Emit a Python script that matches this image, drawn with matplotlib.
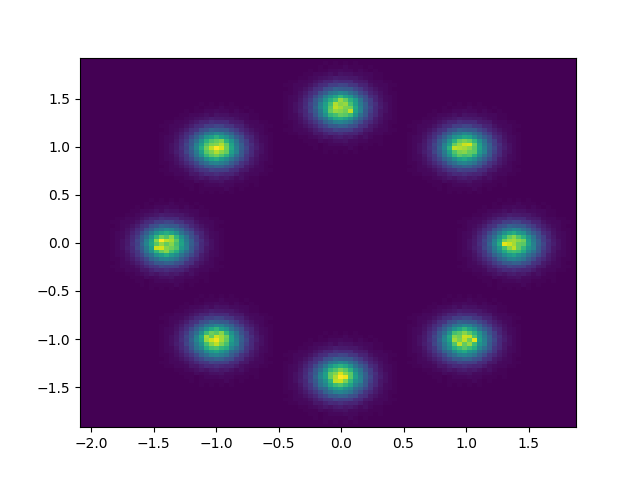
import numpy as np
import matplotlib
matplotlib.use("Agg")
import matplotlib.pyplot as plt

# bin edges of the histogram (100 x 100)
x_min, x_max = -2.088, 1.88
y_min, y_max = -1.917, 1.927
n_bins = 100

# blob centres
centre_x = [0.0, -1.0, 1.0, -1.41, 1.38, -1.0, 1.0, 0.0]
centre_y = [1.41, 1.0, 1.0, 0.0, 0.0, -1.0, -1.0, -1.41]

# outer part of a blob, read as percent of the colour range, top row first
# (the middle 7 x 7 cells are replaced by the cores below)
halo = [
    [0, 0, 0, 0, 0, 0, 0, 0, 0, 1, 0, 1, 0, 1, 0, 1, 0, 0, 0, 0, 0, 0, 0, 0, 0],
    [0, 0, 0, 0, 0, 0, 0, 0, 1, 0, 1, 1, 1, 2, 1, 1, 1, 0, 1, 0, 0, 0, 0, 0, 0],
    [0, 0, 0, 0, 0, 0, 1, 0, 1, 1, 2, 2, 3, 2, 2, 1, 2, 1, 0, 1, 0, 0, 0, 0, 0],
    [0, 0, 0, 0, 0, 1, 1, 2, 2, 3, 4, 3, 5, 4, 4, 3, 3, 2, 2, 1, 1, 0, 0, 0, 0],
    [0, 0, 0, 0, 1, 1, 2, 3, 4, 5, 6, 8, 7, 7, 6, 6, 4, 3, 2, 1, 1, 0, 0, 0, 0],
    [0, 0, 1, 1, 2, 2, 3, 5, 7, 10, 10, 13, 12, 12, 12, 8, 7, 6, 3, 2, 2, 1, 1, 0, 0],
    [0, 1, 1, 2, 2, 3, 5, 8, 12, 13, 18, 18, 21, 20, 16, 15, 10, 9, 5, 3, 2, 2, 1, 1, 0],
    [0, 0, 1, 2, 3, 5, 8, 13, 15, 23, 25, 31, 29, 28, 27, 21, 17, 11, 8, 5, 3, 2, 1, 0, 0],
    [0, 1, 1, 2, 4, 7, 12, 15, 24, 29, 38, 41, 46, 43, 36, 31, 22, 17, 10, 7, 4, 2, 1, 1, 0],
    [0, 1, 2, 3, 5, 9, 14, 22, 30, 0, 0, 0, 0, 0, 0, 0, 29, 23, 13, 10, 5, 3, 2, 1, 0],
    [0, 1, 2, 3, 6, 11, 17, 27, 36, 0, 0, 0, 0, 0, 0, 0, 38, 25, 18, 10, 6, 3, 2, 1, 0],
    [0, 1, 2, 4, 7, 12, 20, 28, 43, 0, 0, 0, 0, 0, 0, 0, 41, 30, 18, 13, 7, 4, 2, 1, 0],
    [0, 1, 2, 4, 7, 13, 19, 31, 45, 0, 0, 0, 0, 0, 0, 0, 43, 30, 21, 12, 8, 4, 2, 1, 0],
    [0, 1, 2, 4, 8, 11, 20, 28, 41, 0, 0, 0, 0, 0, 0, 0, 44, 28, 19, 12, 6, 4, 2, 1, 0],
    [0, 1, 2, 3, 6, 11, 16, 26, 38, 0, 0, 0, 0, 0, 0, 0, 36, 27, 16, 11, 6, 3, 2, 1, 0],
    [0, 1, 2, 3, 5, 9, 15, 21, 31, 0, 0, 0, 0, 0, 0, 0, 30, 22, 15, 8, 5, 3, 2, 1, 0],
    [0, 1, 1, 2, 4, 7, 11, 16, 22, 31, 36, 43, 45, 42, 38, 29, 23, 15, 11, 7, 4, 2, 1, 1, 0],
    [0, 0, 1, 2, 3, 5, 8, 11, 17, 21, 27, 28, 31, 30, 25, 23, 15, 13, 7, 5, 3, 2, 1, 0, 0],
    [0, 1, 1, 2, 2, 3, 5, 8, 11, 15, 16, 20, 19, 19, 18, 13, 12, 7, 6, 3, 2, 2, 1, 1, 0],
    [0, 0, 1, 1, 2, 2, 3, 6, 6, 9, 12, 11, 13, 11, 10, 10, 7, 4, 3, 2, 2, 1, 1, 0, 0],
    [0, 0, 0, 0, 1, 1, 2, 3, 4, 6, 5, 7, 8, 6, 7, 5, 3, 4, 2, 1, 1, 0, 0, 0, 0],
    [0, 0, 0, 0, 0, 1, 1, 1, 3, 2, 3, 4, 4, 5, 3, 3, 2, 2, 1, 1, 1, 0, 0, 0, 0],
    [0, 0, 0, 0, 0, 0, 1, 1, 0, 1, 2, 2, 2, 3, 2, 2, 1, 1, 1, 0, 1, 0, 0, 0, 0],
    [0, 0, 0, 0, 0, 0, 0, 1, 0, 1, 1, 1, 1, 1, 2, 1, 0, 1, 0, 0, 0, 0, 0, 0, 0],
    [0, 0, 0, 0, 0, 0, 0, 0, 0, 1, 0, 1, 0, 1, 0, 1, 0, 0, 0, 0, 0, 0, 0, 0, 0],
]

# inner cells of each blob, same order as the centres
core_top = [
    [42, 50, 58, 66, 58, 52, 40],
    [50, 62, 70, 84, 76, 64, 54],
    [56, 70, 88, 82, 84, 70, 56],
    [58, 74, 90, 86, 80, 78, 60],
    [56, 76, 84, 82, 78, 90, 58],
    [50, 66, 70, 76, 74, 68, 52],
    [38, 50, 60, 62, 58, 50, 40],
]
core_upper_left = [
    [40, 52, 56, 64, 56, 50, 40],
    [50, 64, 72, 76, 80, 64, 52],
    [56, 72, 80, 82, 88, 76, 58],
    [62, 78, 90, 100, 94, 78, 60],
    [56, 74, 80, 88, 82, 76, 56],
    [50, 66, 74, 78, 72, 64, 50],
    [38, 50, 58, 62, 54, 48, 38],
]
core_upper_right = [
    [40, 50, 54, 60, 58, 48, 38],
    [50, 64, 76, 80, 76, 66, 50],
    [56, 76, 84, 92, 94, 76, 56],
    [64, 90, 88, 86, 82, 74, 58],
    [56, 72, 80, 82, 76, 74, 54],
    [50, 66, 74, 70, 72, 62, 48],
    [38, 48, 56, 60, 54, 48, 38],
]
core_left = [
    [40, 50, 58, 62, 58, 50, 38],
    [50, 66, 78, 72, 82, 66, 50],
    [58, 82, 100, 90, 86, 74, 56],
    [60, 74, 84, 76, 82, 70, 58],
    [56, 92, 94, 82, 78, 72, 54],
    [50, 66, 76, 82, 70, 62, 48],
    [38, 50, 56, 62, 54, 48, 38],
]
core_right = [
    [40, 50, 58, 62, 54, 50, 38],
    [50, 64, 76, 82, 72, 64, 50],
    [58, 78, 84, 86, 82, 78, 56],
    [62, 96, 92, 86, 76, 74, 58],
    [54, 70, 82, 90, 76, 66, 52],
    [48, 60, 68, 70, 68, 60, 46],
    [38, 48, 54, 58, 50, 46, 36],
]
core_lower_left = [
    [40, 50, 60, 66, 56, 50, 38],
    [50, 68, 78, 74, 82, 66, 50],
    [60, 86, 76, 92, 86, 78, 56],
    [58, 84, 92, 98, 86, 76, 56],
    [52, 70, 82, 90, 80, 70, 52],
    [46, 62, 70, 72, 66, 62, 46],
    [36, 48, 54, 58, 52, 46, 34],
]
core_lower_right = [
    [40, 50, 58, 66, 58, 50, 38],
    [50, 70, 74, 82, 74, 64, 50],
    [60, 82, 78, 92, 90, 72, 54],
    [58, 86, 80, 90, 78, 96, 56],
    [52, 72, 90, 76, 84, 68, 52],
    [48, 62, 68, 74, 68, 62, 46],
    [36, 48, 56, 60, 52, 48, 36],
]
core_bottom = [
    [40, 52, 60, 64, 60, 50, 38],
    [50, 66, 72, 80, 74, 64, 48],
    [56, 76, 82, 94, 82, 74, 54],
    [56, 76, 88, 100, 97, 74, 56],
    [50, 66, 90, 92, 80, 66, 50],
    [46, 60, 68, 72, 66, 58, 44],
    [34, 48, 54, 58, 50, 46, 34],
]
cores = [core_top, core_upper_left, core_upper_right, core_left,
         core_right, core_lower_left, core_lower_right, core_bottom]

x_edges = np.linspace(x_min, x_max, n_bins + 1)
y_edges = np.linspace(y_min, y_max, n_bins + 1)

# put every blob on the grid, cells past the edge are dropped
grid = np.zeros((n_bins, n_bins))
for cx, cy, core in zip(centre_x, centre_y, cores):
    blob = np.array(halo, dtype=float)
    blob[9:16, 9:16] = core
    blob = blob[::-1]  # rows were read from the top, the grid goes upwards
    col = np.searchsorted(x_edges, cx) - 1
    row = np.searchsorted(y_edges, cy) - 1
    for i in range(25):
        for j in range(25):
            r, c = row - 12 + i, col - 12 + j
            if 0 <= r < n_bins and 0 <= c < n_bins:
                grid[r, c] += blob[i, j]

fig, ax = plt.subplots()
ax.pcolormesh(x_edges, y_edges, grid, cmap="viridis", vmin=0, vmax=100)
plt.savefig("out.png")
